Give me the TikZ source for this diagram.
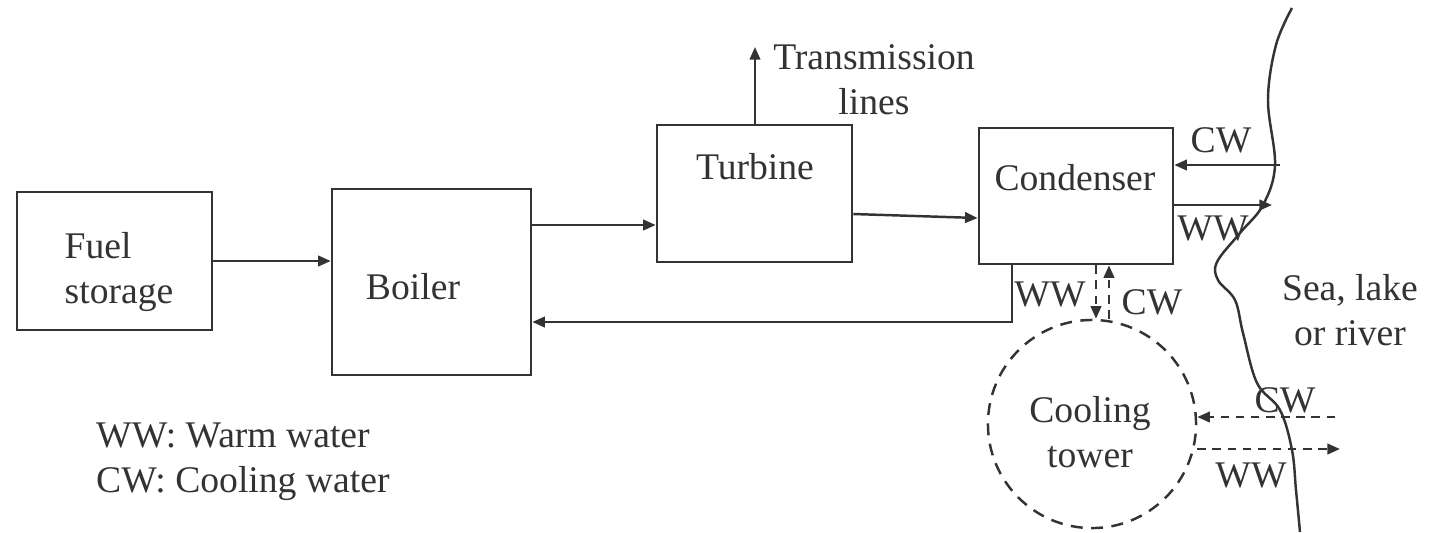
\documentclass[tikz,border=0pt]{standalone}
\usepackage{fontspec}
\setmainfont{Liberation Serif}
\usetikzlibrary{arrows.meta,positioning}

\begin{document}
\begin{tikzpicture}[x=0.01cm,y=-0.01cm,
    line width=0.7pt,color=black!80,
    font=\fontsize{10.7}{12.9}\selectfont,
    unit/.style={draw,rectangle,inner sep=0pt},
    flow/.style={-{Triangle[length=3.6pt,width=3pt]}},
    dflow/.style={flow,dash pattern=on 2.4pt off 1.9pt},
    tag/.style={inner sep=0pt}]
    \useasboundingbox (0,0) rectangle (1429,532);

    % Plant units
    \node[unit,minimum width=1.95cm,minimum height=1.38cm] (fuel) at (114.5,261) {};
    \node[unit,minimum width=1.99cm,minimum height=1.86cm] (boiler) at (431.5,282) {};
    \node[unit,minimum width=1.95cm,minimum height=1.37cm] (turbine) at (754.5,193.5) {};
    \node[unit,minimum width=1.94cm,minimum height=1.36cm] (condenser) at (1076,196) {};
    \node[circle,draw,dash pattern=on 3.4pt off 2.4pt,minimum size=2.08cm,inner sep=0pt] (tower) at (1092,424) {};

    % Unit texts
    \node[tag,align=left] (fueltxt) at (119,272) {Fuel\\storage};
    \node[tag] (boilertxt) at (413,287) {Boiler};
    \node[tag] (turbinetxt) at (755,167) {Turbine};
    \node[tag] (condensertxt) at (1075,178) {Condenser};
    \node[tag,align=center] (towertxt) at (1090,432) {Cooling\\tower};
    \node[tag,align=center] (trans) at (874,80) {Transmission\\lines};
    \node[tag,align=center] (sea) at (1350,310) {Sea, lake\\or river};

    % Legend
    \node[tag,align=left,anchor=west] (legend) at (95,462) {WW: Warm water\\CW: Cooling water};

    % Helper points for the pipes
    \coordinate (bt) at (0,225);
    \coordinate (tcl) at (0,214);
    \coordinate (tcr) at (0,218);
    \coordinate (ret) at (0,322);
    \coordinate (retx) at (1012,0);
    \coordinate (grid) at (755,47);
    \coordinate (cwin) at (1280,165);
    \coordinate (wwout) at (1272,205);
    \coordinate (dl) at (1096,0);
    \coordinate (dr) at (1109,0);
    \coordinate (tcw) at (1335,417);
    \coordinate (tww) at (1340,449);

    % Main steam / fuel path
    \draw[flow] (fuel.east) -- (boiler.west |- fuel.east);
    \draw[flow] (boiler.east |- bt) -- (turbine.west |- bt);
    \draw[flow] (turbine.east |- tcl) -- (condenser.west |- tcr);
    \draw[flow] (turbine.north -| grid) -- (grid);
    \draw[flow] (condenser.south -| retx) |- (boiler.east |- ret);

    % Condenser water
    \draw[flow] (cwin) -- (condenser.east |- cwin);
    \draw[flow] (condenser.east |- wwout) -- (wwout);
    \draw[dflow] (condenser.south -| dl) -- (tower.north -| dl);
    \draw[dflow] (tower.north -| dr) -- (condenser.south -| dr);

    % Cooling tower water
    \draw[dflow] (tcw) -- (tower.east |- tcw);
    \draw[dflow] (tower.east |- tww) -- (tww);

    % Flow labels
    \node[tag] (cw1) at (1221,140) {CW};
    \node[tag] (ww1) at (1213,228) {WW};
    \node[tag] (ww2) at (1050,294) {WW};
    \node[tag] (cw2) at (1152,302) {CW};
    \node[tag] (cw3) at (1285,400) {CW};
    \node[tag] (ww3) at (1251,475) {WW};

    % Shore line
    \draw plot[smooth,tension=0.6] coordinates {(1292,8) (1276,45) (1268,100) (1275,165) (1263,205) (1240,233) (1217,262) (1218,280) (1235,300) (1243,333) (1257,383) (1280,410) (1292,450) (1296,490) (1300,532)};
\end{tikzpicture}
\end{document}
